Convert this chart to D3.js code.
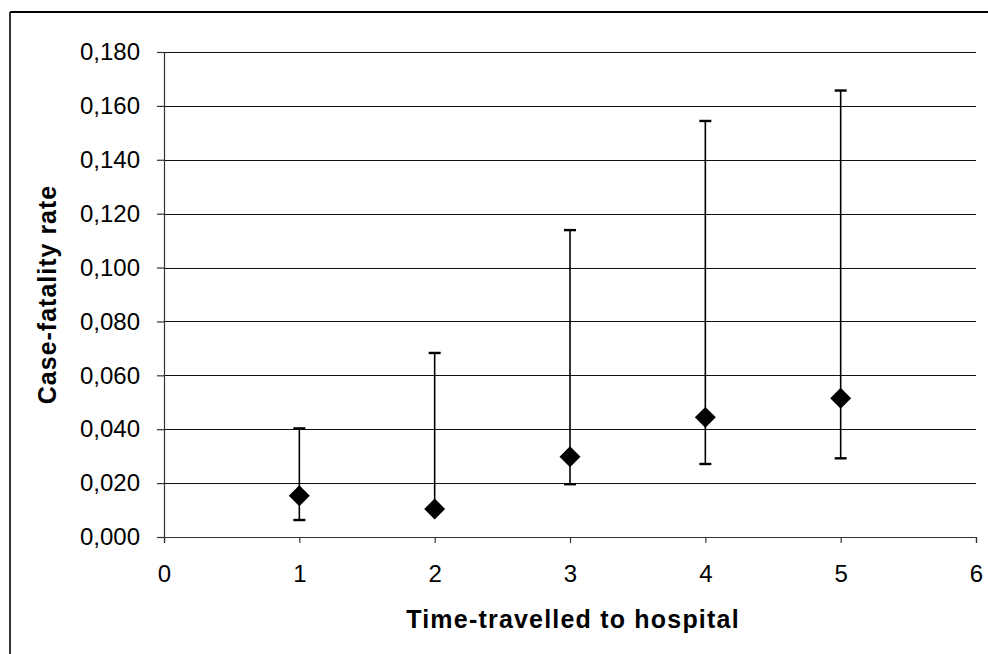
<!DOCTYPE html>
<html>
<head>
<meta charset="utf-8">
<script src="https://cdn.jsdelivr.net/npm/d3@7"></script>
<style>
  body { margin: 0; background: #fff; }
  svg { display: block; font-family: "Liberation Sans", Arial, sans-serif; }
</style>
</head>
<body>
<svg width="988" height="654"></svg>
<script>
// data
var times = [1, 2, 3, 4, 5];
var rates = [0.0153, 0.0104, 0.0298, 0.0444, 0.0515];
var lower = [0.0063, 0.0095, 0.0196, 0.0271, 0.0292];
var upper = [0.0403, 0.0683, 0.1139, 0.1544, 0.1657];
var xTicks = [0, 1, 2, 3, 4, 5, 6];
var yTicks = [0, 0.02, 0.04, 0.06, 0.08, 0.10, 0.12, 0.14, 0.16, 0.18];

var svg = d3.select("svg");
var plotLeft = 164, plotRight = 976, plotTop = 52, plotBottom = 537;

var x = d3.scaleLinear().domain([0, 6]).range([plotLeft, plotRight]);
var y = d3.scaleLinear().domain([0, 0.18]).range([plotBottom, plotTop]);

// outer frame (only top and left edges show)
svg.append("line").attr("x1", 10).attr("x2", 988).attr("y1", 12).attr("y2", 12)
   .attr("stroke", "#000").attr("stroke-width", 2.2);
svg.append("line").attr("x1", 10).attr("x2", 10).attr("y1", 12).attr("y2", 654)
   .attr("stroke", "#000").attr("stroke-width", 1.6);

//gridlines
svg.append("g").selectAll("line")
   .data(yTicks.slice(1))
   .enter().append("line")
   .attr("x1", plotLeft).attr("x2", plotRight)
   .attr("y1", function(d){ return Math.round(y(d)) + 0.5; })
   .attr("y2", function(d){ return Math.round(y(d)) + 0.5; })
   .attr("stroke", "#111").attr("stroke-width", 1.2);

var fmt = function(d){ return d3.format(".3f")(d).replace(".", ","); };

var yAxis = svg.append("g")
   .attr("transform", "translate(" + plotLeft + ",0)")
   .call(d3.axisLeft(y).tickValues(yTicks).tickFormat(fmt).tickSize(7).tickPadding(17));
var xAxis = svg.append("g")
   .attr("transform", "translate(0," + plotBottom + ")")
   .call(d3.axisBottom(x).tickValues(xTicks).tickFormat(d3.format("d")).tickSize(6).tickPadding(26));

[yAxis, xAxis].forEach(function(a){
  a.select(".domain").attr("stroke", "#333").attr("stroke-width", 1.2);
  a.selectAll(".tick line").attr("stroke", "#333").attr("stroke-width", 1.2);
  a.selectAll("text").attr("font-size", 24).attr("fill", "#000")
   .attr("font-family", "'Liberation Sans', Arial, sans-serif");
});
xAxis.selectAll("text").attr("dy", "0.55em");

// error bars
var bars = svg.append("g");
times.forEach(function(t, i){
  bars.append("line")
      .attr("x1", x(t)).attr("x2", x(t))
      .attr("y1", y(lower[i])).attr("y2", y(upper[i]))
      .attr("stroke", "#000").attr("stroke-width", 1.6);
  [lower[i], upper[i]].forEach(function(v){
    bars.append("line")
        .attr("x1", x(t) - 6).attr("x2", x(t) + 6)
        .attr("y1", y(v)).attr("y2", y(v))
        .attr("stroke", "#000").attr("stroke-width", 2.4);
  });
});

// diamonds
svg.append("g").selectAll("path")
   .data(times)
   .enter().append("path")
   .attr("d", d3.symbol().type(d3.symbolSquare).size(220))
   .attr("transform", function(d, i){
     return "translate(" + x(d) + "," + y(rates[i]) + ") rotate(45)";
   })
   .attr("fill", "#000");

// axis titles
svg.append("text")
   .attr("x", (plotLeft + plotRight) / 2 + 3).attr("y", 628)
   .attr("text-anchor", "middle")
   .attr("font-size", 25).attr("font-weight", "bold")
   .attr("letter-spacing", 1.2)
   .text("Time-travelled to hospital");

svg.append("text")
   .attr("transform", "translate(56," + ((plotTop + plotBottom) / 2) + ") rotate(-90)")
   .attr("text-anchor", "middle")
   .attr("font-size", 25).attr("font-weight", "bold")
   .attr("letter-spacing", 1.0)
   .text("Case-fatality rate");
</script>
</body>
</html>
